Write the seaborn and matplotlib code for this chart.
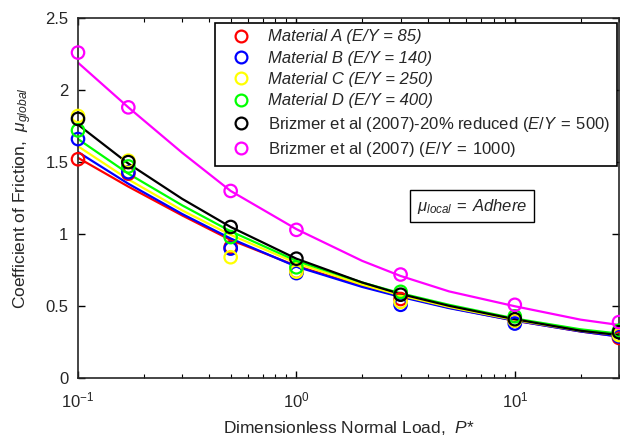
import matplotlib
matplotlib.use("Agg")
import matplotlib.pyplot as plt
from matplotlib.lines import Line2D
import seaborn as sns

# Measured friction coefficients (open circles)
P = [0.1, 0.17, 0.5, 1, 3, 10, 30]
mu_A = [1.52, 1.42, 0.91, 0.74, 0.55, 0.40, 0.28]
mu_B = [1.66, 1.43, 0.90, 0.73, 0.51, 0.38, 0.29]
mu_C = [1.82, 1.51, 0.84, 0.74, 0.53, 0.40, 0.30]
mu_D = [1.72, 1.47, 0.98, 0.77, 0.60, 0.43, 0.33]
mu_brz80 = [1.80, 1.50, 1.05, 0.83, 0.58, 0.41, 0.32]
mu_brz = [2.26, 1.88, 1.30, 1.03, 0.72, 0.51, 0.39]

# Fitted curves (solid lines)
P_fit = [0.1, 0.17, 0.3, 0.5, 1, 2, 3, 5, 10, 20, 30]
fit_A = [1.53, 1.33, 1.13, 0.96, 0.78, 0.64, 0.57, 0.49, 0.40, 0.325, 0.29]
fit_B = [1.57, 1.35, 1.14, 0.97, 0.775, 0.634, 0.565, 0.487, 0.40, 0.325, 0.29]
fit_C = [1.61, 1.38, 1.165, 0.995, 0.80, 0.65, 0.575, 0.495, 0.405, 0.33, 0.30]
fit_D = [1.66, 1.42, 1.20, 1.02, 0.815, 0.665, 0.59, 0.51, 0.415, 0.34, 0.31]
fit_brz80 = [1.76, 1.49, 1.245, 1.05, 0.83, 0.665, 0.585, 0.503, 0.41, 0.33, 0.30]
fit_brz = [2.19, 1.88, 1.565, 1.30, 1.035, 0.815, 0.71, 0.603, 0.50, 0.407, 0.37]

labels = [
    r"Material A (E/Y = 85)",
    r"Material B (E/Y = 140)",
    r"Material C (E/Y = 250)",
    r"Material D (E/Y = 400)",
    r"Brizmer et al (2007)-20% reduced ($\mathit{E/Y\:=\:500)}$",
    r"Brizmer et al (2007) ($\mathit{E/Y\:=\:1000)}$",
]
italic_label = [True, True, True, True, False, False]
colors = ["#ff0000", "#0000ff", "#ffff00", "#00ff00", "#000000", "#ff00ff"]

sns.set_style("ticks")
plt.rcParams["font.family"] = ["Liberation Sans", "DejaVu Sans"]
plt.rcParams["mathtext.fontset"] = "custom"
plt.rcParams["mathtext.rm"] = "Liberation Sans"
plt.rcParams["mathtext.it"] = "Liberation Sans:italic"
plt.rcParams["mathtext.bf"] = "Liberation Sans:bold"

fig = plt.figure(figsize=(6.2, 4.44), dpi=100)
ax = fig.add_axes([78 / 620, 1 - 378.3 / 444, 541 / 620, 360.3 / 444])

meas = [mu_A, mu_B, mu_C, mu_D, mu_brz80, mu_brz]
fits = [fit_A, fit_B, fit_C, fit_D, fit_brz80, fit_brz]

for fit, c in zip(fits, colors):
    sns.lineplot(x=P_fit, y=fit, ax=ax, color=c, lw=1.6,
                 estimator=None, sort=False, zorder=2)
for mu, c in zip(meas, colors):
    sns.scatterplot(x=P, y=mu, ax=ax, marker="o", s=80,
                    fc="none", ec=c, linewidth=1.6, zorder=3, clip_on=False)

ax.set_xscale("log")
ax.set_xlim(0.1, 30)
ax.set_ylim(0, 2.5)
ax.set_yticks([0, 0.5, 1, 1.5, 2, 2.5])
ax.set_yticklabels(["0", "0.5", "1", "1.5", "2", "2.5"])

for side in ["top", "right", "left", "bottom"]:
    ax.spines[side].set_visible(True)
    ax.spines[side].set_linewidth(1.2)
ax.tick_params(which="both", direction="in", top=True, right=True,
               labelsize=12, color="black")
ax.tick_params(which="major", length=5, width=1.0, pad=7)
ax.tick_params(axis="x", which="major", pad=9)
ax.tick_params(which="minor", length=3, width=0.8)
ax.tick_params(axis="y", which="minor", left=False, right=False)

ax.set_xlabel(r"Dimensionless Normal Load,  $\mathit{P}$*", fontsize=12.5, labelpad=6)
ax.set_ylabel(r"Coefficient of Friction,  $\mu_{global}$", fontsize=12.5, labelpad=8)

handles = [Line2D([], [], ls="none", marker="o", ms=8.5, mfc="none",
                  mec=c, mew=1.6) for c in colors]
leg = ax.legend(handles, labels, loc="upper right",
                bbox_to_anchor=(0.9963, 0.987), borderaxespad=0,
                fontsize=12, frameon=True, fancybox=False,
                handlelength=2.3, handletextpad=0.5, borderpad=0.4,
                labelspacing=0.38)
leg.get_frame().set_edgecolor("black")
leg.get_frame().set_linewidth(1.2)
leg.get_frame().set_alpha(1)
for t, it in zip(leg.get_texts(), italic_label):
    if it:
        t.set_style("italic")

ax.text(0.728, 0.478, r"$\mu_{local}\mathit{\:=\:Adhere}$", transform=ax.transAxes,
        ha="center", va="center", fontsize=12,
        bbox=dict(boxstyle="square,pad=0.4", fc="white", ec="black", lw=1.0))

fig.savefig("out.png", dpi=100)
